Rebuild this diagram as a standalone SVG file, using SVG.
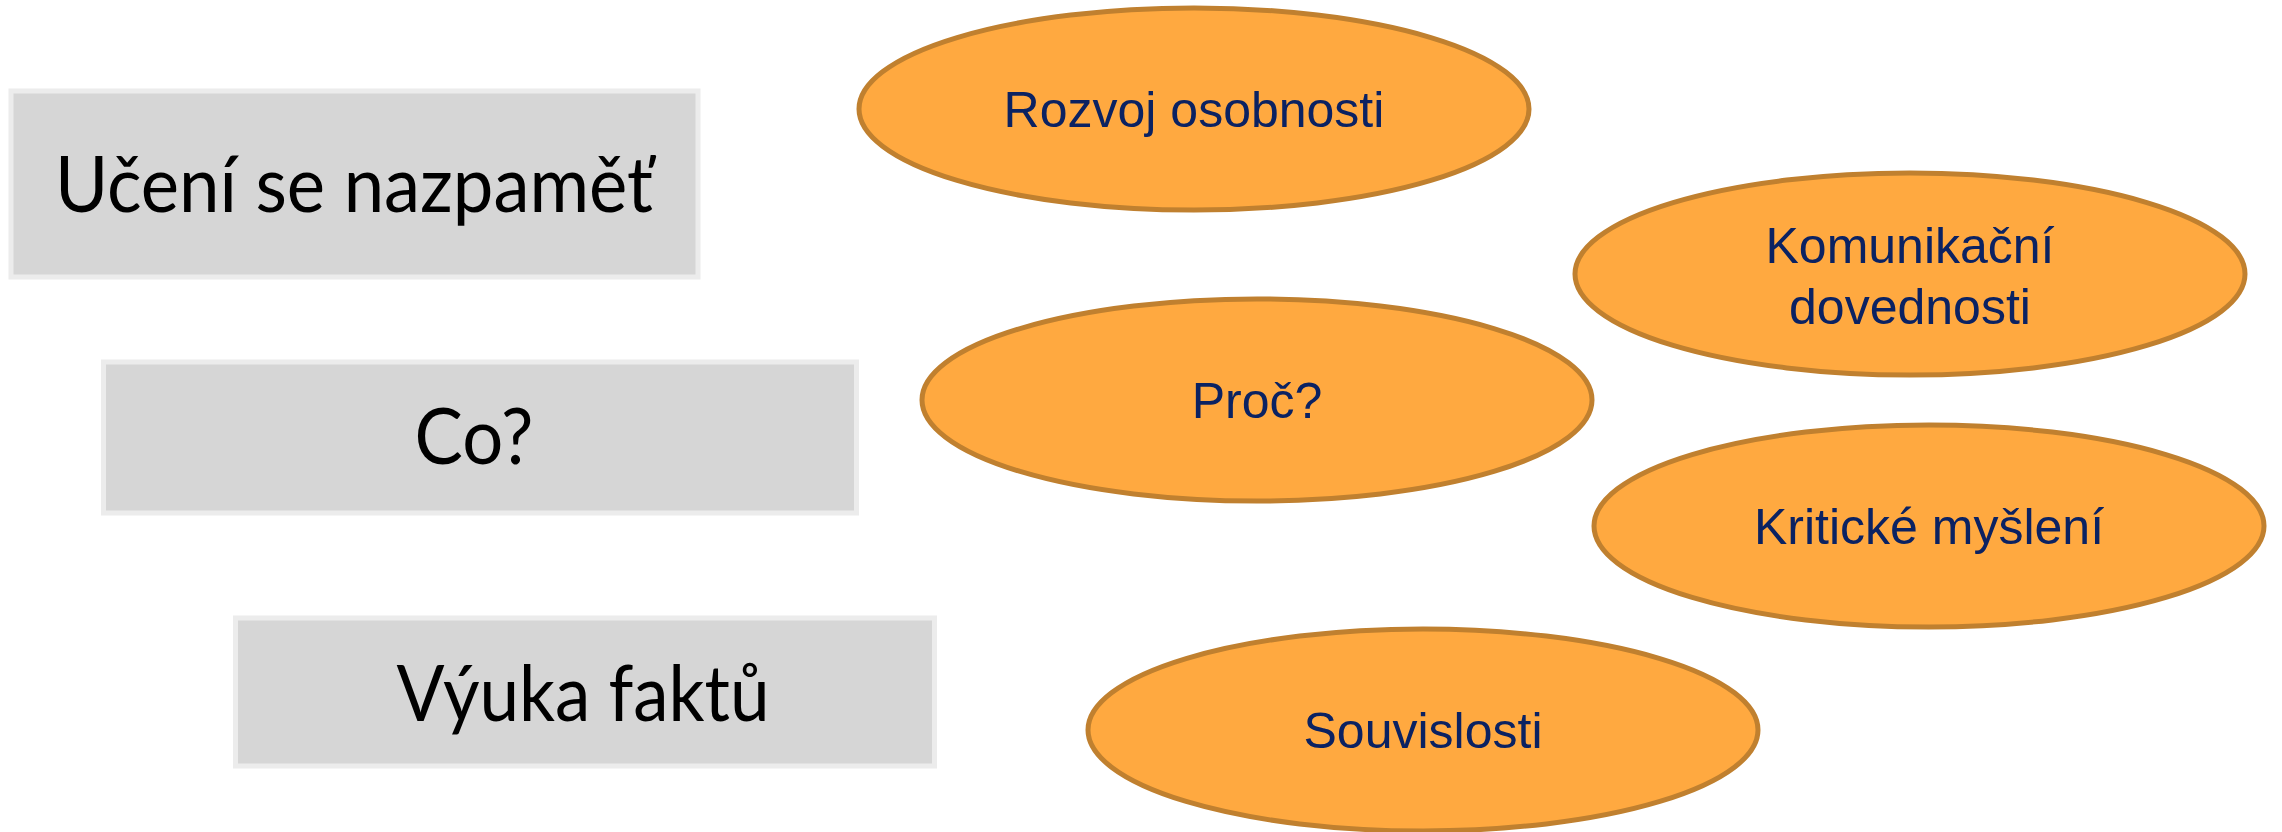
<svg xmlns="http://www.w3.org/2000/svg" width="2282" height="832" viewBox="0 0 2282 832">
<style>
.box{fill:#d6d6d6;stroke:#ececec;stroke-width:5}
.btxt{font-family:Lato,"Open Sans","Liberation Sans",sans-serif;font-size:77px;fill:#000;text-anchor:middle}
.ell{fill:#ffa940;stroke:#c0802f;stroke-width:5}
.etxt{font-family:"Liberation Sans",Arial,sans-serif;font-size:50px;fill:#0b2262;text-anchor:middle}
</style>
<rect width="2282" height="832" fill="#fff"/>
<g id="connectors"></g>
<g id="box1"><rect class="box" x="11" y="91" width="687" height="186"/><text class="btxt" x="354" y="212" textLength="598" lengthAdjust="spacingAndGlyphs">Učení se nazpaměť</text></g>
<g id="box2"><rect class="box" x="103.5" y="362" width="753" height="151"/><text class="btxt" x="474" y="464" textLength="119" lengthAdjust="spacingAndGlyphs">Co?</text></g>
<g id="box3"><rect class="box" x="235.5" y="618" width="699" height="148"/><text class="btxt" x="583" y="721" textLength="373" lengthAdjust="spacingAndGlyphs">Výuka faktů</text></g>
<g id="e1"><ellipse class="ell" cx="1194" cy="109" rx="335" ry="101"/><text class="etxt" x="1194" y="127">Rozvoj osobnosti</text></g>
<g id="e2"><ellipse class="ell" cx="1910" cy="274" rx="335" ry="101"/><text class="etxt" x="1910" y="263">Komunikační</text><text class="etxt" x="1910" y="324">dovednosti</text></g>
<g id="e3"><ellipse class="ell" cx="1257" cy="400" rx="335" ry="101"/><text class="etxt" x="1257" y="418">Proč?</text></g>
<g id="e4"><ellipse class="ell" cx="1929" cy="526" rx="335" ry="101"/><text class="etxt" x="1929" y="544">Kritické myšlení</text></g>
<g id="e5"><ellipse class="ell" cx="1423" cy="730" rx="335" ry="101"/><text class="etxt" x="1423" y="748">Souvislosti</text></g>
</svg>
